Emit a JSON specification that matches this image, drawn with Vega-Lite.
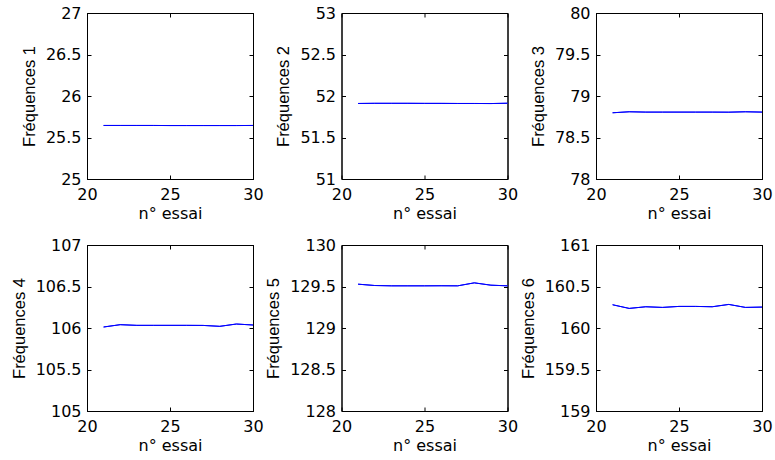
{
  "$schema": "https://vega.github.io/schema/vega-lite/v6.json",
  "autosize": {"type": "pad"},
  "padding": {"left": 10, "top": 4, "right": 5, "bottom": 5},
  "background": "white",
  "datasets": {
    "d": [
      {"panel": 1, "essai": 21, "freq": 25.645}, {"panel": 1, "essai": 22, "freq": 25.645}, {"panel": 1, "essai": 23, "freq": 25.645}, {"panel": 1, "essai": 24, "freq": 25.645}, {"panel": 1, "essai": 25, "freq": 25.644}, {"panel": 1, "essai": 26, "freq": 25.644}, {"panel": 1, "essai": 27, "freq": 25.644}, {"panel": 1, "essai": 28, "freq": 25.644}, {"panel": 1, "essai": 29, "freq": 25.644}, {"panel": 1, "essai": 30, "freq": 25.645},
      {"panel": 2, "essai": 21, "freq": 51.91}, {"panel": 2, "essai": 22, "freq": 51.912}, {"panel": 2, "essai": 23, "freq": 51.912}, {"panel": 2, "essai": 24, "freq": 51.912}, {"panel": 2, "essai": 25, "freq": 51.911}, {"panel": 2, "essai": 26, "freq": 51.911}, {"panel": 2, "essai": 27, "freq": 51.91}, {"panel": 2, "essai": 28, "freq": 51.91}, {"panel": 2, "essai": 29, "freq": 51.909}, {"panel": 2, "essai": 30, "freq": 51.913},
      {"panel": 3, "essai": 21, "freq": 78.798}, {"panel": 3, "essai": 22, "freq": 78.81}, {"panel": 3, "essai": 23, "freq": 78.806}, {"panel": 3, "essai": 24, "freq": 78.806}, {"panel": 3, "essai": 25, "freq": 78.806}, {"panel": 3, "essai": 26, "freq": 78.806}, {"panel": 3, "essai": 27, "freq": 78.806}, {"panel": 3, "essai": 28, "freq": 78.805}, {"panel": 3, "essai": 29, "freq": 78.81}, {"panel": 3, "essai": 30, "freq": 78.806},
      {"panel": 4, "essai": 21, "freq": 106.012}, {"panel": 4, "essai": 22, "freq": 106.04}, {"panel": 4, "essai": 23, "freq": 106.032}, {"panel": 4, "essai": 24, "freq": 106.032}, {"panel": 4, "essai": 25, "freq": 106.032}, {"panel": 4, "essai": 26, "freq": 106.032}, {"panel": 4, "essai": 27, "freq": 106.031}, {"panel": 4, "essai": 28, "freq": 106.02}, {"panel": 4, "essai": 29, "freq": 106.048}, {"panel": 4, "essai": 30, "freq": 106.036},
      {"panel": 5, "essai": 21, "freq": 129.528}, {"panel": 5, "essai": 22, "freq": 129.512}, {"panel": 5, "essai": 23, "freq": 129.508}, {"panel": 5, "essai": 24, "freq": 129.508}, {"panel": 5, "essai": 25, "freq": 129.508}, {"panel": 5, "essai": 26, "freq": 129.509}, {"panel": 5, "essai": 27, "freq": 129.508}, {"panel": 5, "essai": 28, "freq": 129.544}, {"panel": 5, "essai": 29, "freq": 129.516}, {"panel": 5, "essai": 30, "freq": 129.508},
      {"panel": 6, "essai": 21, "freq": 160.28}, {"panel": 6, "essai": 22, "freq": 160.236}, {"panel": 6, "essai": 23, "freq": 160.256}, {"panel": 6, "essai": 24, "freq": 160.248}, {"panel": 6, "essai": 25, "freq": 160.26}, {"panel": 6, "essai": 26, "freq": 160.26}, {"panel": 6, "essai": 27, "freq": 160.256}, {"panel": 6, "essai": 28, "freq": 160.284}, {"panel": 6, "essai": 29, "freq": 160.248}, {"panel": 6, "essai": 30, "freq": 160.252}
    ]
  },
  "data": {"name": "d"},
  "bounds": "flush",
  "columns": 3,
  "spacing": {"row": 66, "column": 88.5},
  "config": {
    "view": {"stroke": "black", "strokeWidth": 1},
    "axis": {
      "grid": false,
      "domainColor": "black",
      "tickColor": "black",
      "tickSize": -4,
      "labelColor": "black",
      "titleColor": "black",
      "labelFont": "DejaVu Sans",
      "labelFontSize": 16,
      "titleFontWeight": "normal",
      "labelFlush": false,
      "labelOverlap": false,
      "format": "~g"
    },
    "axisX": {"labelPadding": 11, "titlePadding": 3, "titleFont": "DejaVu Sans", "titleFontSize": 16},
    "axisY": {"labelPadding": 10, "titlePadding": 8, "titleFont": "Liberation Sans", "titleFontSize": 16.5}
  },
  "concat": [
    {
      "width": 166, "height": 166,
      "transform": [{"filter": "datum.panel == 1"}],
      "layer": [
        {"mark": {"type": "line", "color": "#0000ff", "strokeWidth": 1},
         "encoding": {
           "x": {"field": "essai", "type": "quantitative", "scale": {"domain": [20, 30]}, "axis": {"title": "n° essai", "values": [20, 25, 30]}},
           "y": {"field": "freq", "type": "quantitative", "scale": {"domain": [25, 27], "zero": false}, "axis": {"title": "Fréquences 1", "values": [25, 25.5, 26, 26.5, 27]}}}},
        {"mark": {"type": "line", "color": "#0000ff", "strokeWidth": 1},
         "encoding": {
           "x": {"field": "essai", "type": "quantitative", "axis": {"orient": "top", "title": null, "labels": false, "values": [20, 25, 30]}},
           "y": {"field": "freq", "type": "quantitative", "axis": {"orient": "right", "title": null, "labels": false, "values": [25, 25.5, 26, 26.5, 27]}}}}
      ],
      "resolve": {"axis": {"x": "independent", "y": "independent"}}
    },
    {
      "width": 166, "height": 166,
      "transform": [{"filter": "datum.panel == 2"}],
      "layer": [
        {"mark": {"type": "line", "color": "#0000ff", "strokeWidth": 1},
         "encoding": {
           "x": {"field": "essai", "type": "quantitative", "scale": {"domain": [20, 30]}, "axis": {"title": "n° essai", "values": [20, 25, 30]}},
           "y": {"field": "freq", "type": "quantitative", "scale": {"domain": [51, 53], "zero": false}, "axis": {"title": "Fréquences 2", "values": [51, 51.5, 52, 52.5, 53]}}}},
        {"mark": {"type": "line", "color": "#0000ff", "strokeWidth": 1},
         "encoding": {
           "x": {"field": "essai", "type": "quantitative", "axis": {"orient": "top", "title": null, "labels": false, "values": [20, 25, 30]}},
           "y": {"field": "freq", "type": "quantitative", "axis": {"orient": "right", "title": null, "labels": false, "values": [51, 51.5, 52, 52.5, 53]}}}}
      ],
      "resolve": {"axis": {"x": "independent", "y": "independent"}}
    },
    {
      "width": 166, "height": 166,
      "transform": [{"filter": "datum.panel == 3"}],
      "layer": [
        {"mark": {"type": "line", "color": "#0000ff", "strokeWidth": 1},
         "encoding": {
           "x": {"field": "essai", "type": "quantitative", "scale": {"domain": [20, 30]}, "axis": {"title": "n° essai", "values": [20, 25, 30]}},
           "y": {"field": "freq", "type": "quantitative", "scale": {"domain": [78, 80], "zero": false}, "axis": {"title": "Fréquences 3", "values": [78, 78.5, 79, 79.5, 80]}}}},
        {"mark": {"type": "line", "color": "#0000ff", "strokeWidth": 1},
         "encoding": {
           "x": {"field": "essai", "type": "quantitative", "axis": {"orient": "top", "title": null, "labels": false, "values": [20, 25, 30]}},
           "y": {"field": "freq", "type": "quantitative", "axis": {"orient": "right", "title": null, "labels": false, "values": [78, 78.5, 79, 79.5, 80]}}}}
      ],
      "resolve": {"axis": {"x": "independent", "y": "independent"}}
    },
    {
      "width": 166, "height": 166,
      "transform": [{"filter": "datum.panel == 4"}],
      "layer": [
        {"mark": {"type": "line", "color": "#0000ff", "strokeWidth": 1},
         "encoding": {
           "x": {"field": "essai", "type": "quantitative", "scale": {"domain": [20, 30]}, "axis": {"title": "n° essai", "values": [20, 25, 30]}},
           "y": {"field": "freq", "type": "quantitative", "scale": {"domain": [105, 107], "zero": false}, "axis": {"title": "Fréquences 4", "values": [105, 105.5, 106, 106.5, 107]}}}},
        {"mark": {"type": "line", "color": "#0000ff", "strokeWidth": 1},
         "encoding": {
           "x": {"field": "essai", "type": "quantitative", "axis": {"orient": "top", "title": null, "labels": false, "values": [20, 25, 30]}},
           "y": {"field": "freq", "type": "quantitative", "axis": {"orient": "right", "title": null, "labels": false, "values": [105, 105.5, 106, 106.5, 107]}}}}
      ],
      "resolve": {"axis": {"x": "independent", "y": "independent"}}
    },
    {
      "width": 166, "height": 166,
      "transform": [{"filter": "datum.panel == 5"}],
      "layer": [
        {"mark": {"type": "line", "color": "#0000ff", "strokeWidth": 1},
         "encoding": {
           "x": {"field": "essai", "type": "quantitative", "scale": {"domain": [20, 30]}, "axis": {"title": "n° essai", "values": [20, 25, 30]}},
           "y": {"field": "freq", "type": "quantitative", "scale": {"domain": [128, 130], "zero": false}, "axis": {"title": "Fréquences 5", "values": [128, 128.5, 129, 129.5, 130]}}}},
        {"mark": {"type": "line", "color": "#0000ff", "strokeWidth": 1},
         "encoding": {
           "x": {"field": "essai", "type": "quantitative", "axis": {"orient": "top", "title": null, "labels": false, "values": [20, 25, 30]}},
           "y": {"field": "freq", "type": "quantitative", "axis": {"orient": "right", "title": null, "labels": false, "values": [128, 128.5, 129, 129.5, 130]}}}}
      ],
      "resolve": {"axis": {"x": "independent", "y": "independent"}}
    },
    {
      "width": 166, "height": 166,
      "transform": [{"filter": "datum.panel == 6"}],
      "layer": [
        {"mark": {"type": "line", "color": "#0000ff", "strokeWidth": 1},
         "encoding": {
           "x": {"field": "essai", "type": "quantitative", "scale": {"domain": [20, 30]}, "axis": {"title": "n° essai", "values": [20, 25, 30]}},
           "y": {"field": "freq", "type": "quantitative", "scale": {"domain": [159, 161], "zero": false}, "axis": {"title": "Fréquences 6", "values": [159, 159.5, 160, 160.5, 161]}}}},
        {"mark": {"type": "line", "color": "#0000ff", "strokeWidth": 1},
         "encoding": {
           "x": {"field": "essai", "type": "quantitative", "axis": {"orient": "top", "title": null, "labels": false, "values": [20, 25, 30]}},
           "y": {"field": "freq", "type": "quantitative", "axis": {"orient": "right", "title": null, "labels": false, "values": [159, 159.5, 160, 160.5, 161]}}}}
      ],
      "resolve": {"axis": {"x": "independent", "y": "independent"}}
    }
  ]
}
